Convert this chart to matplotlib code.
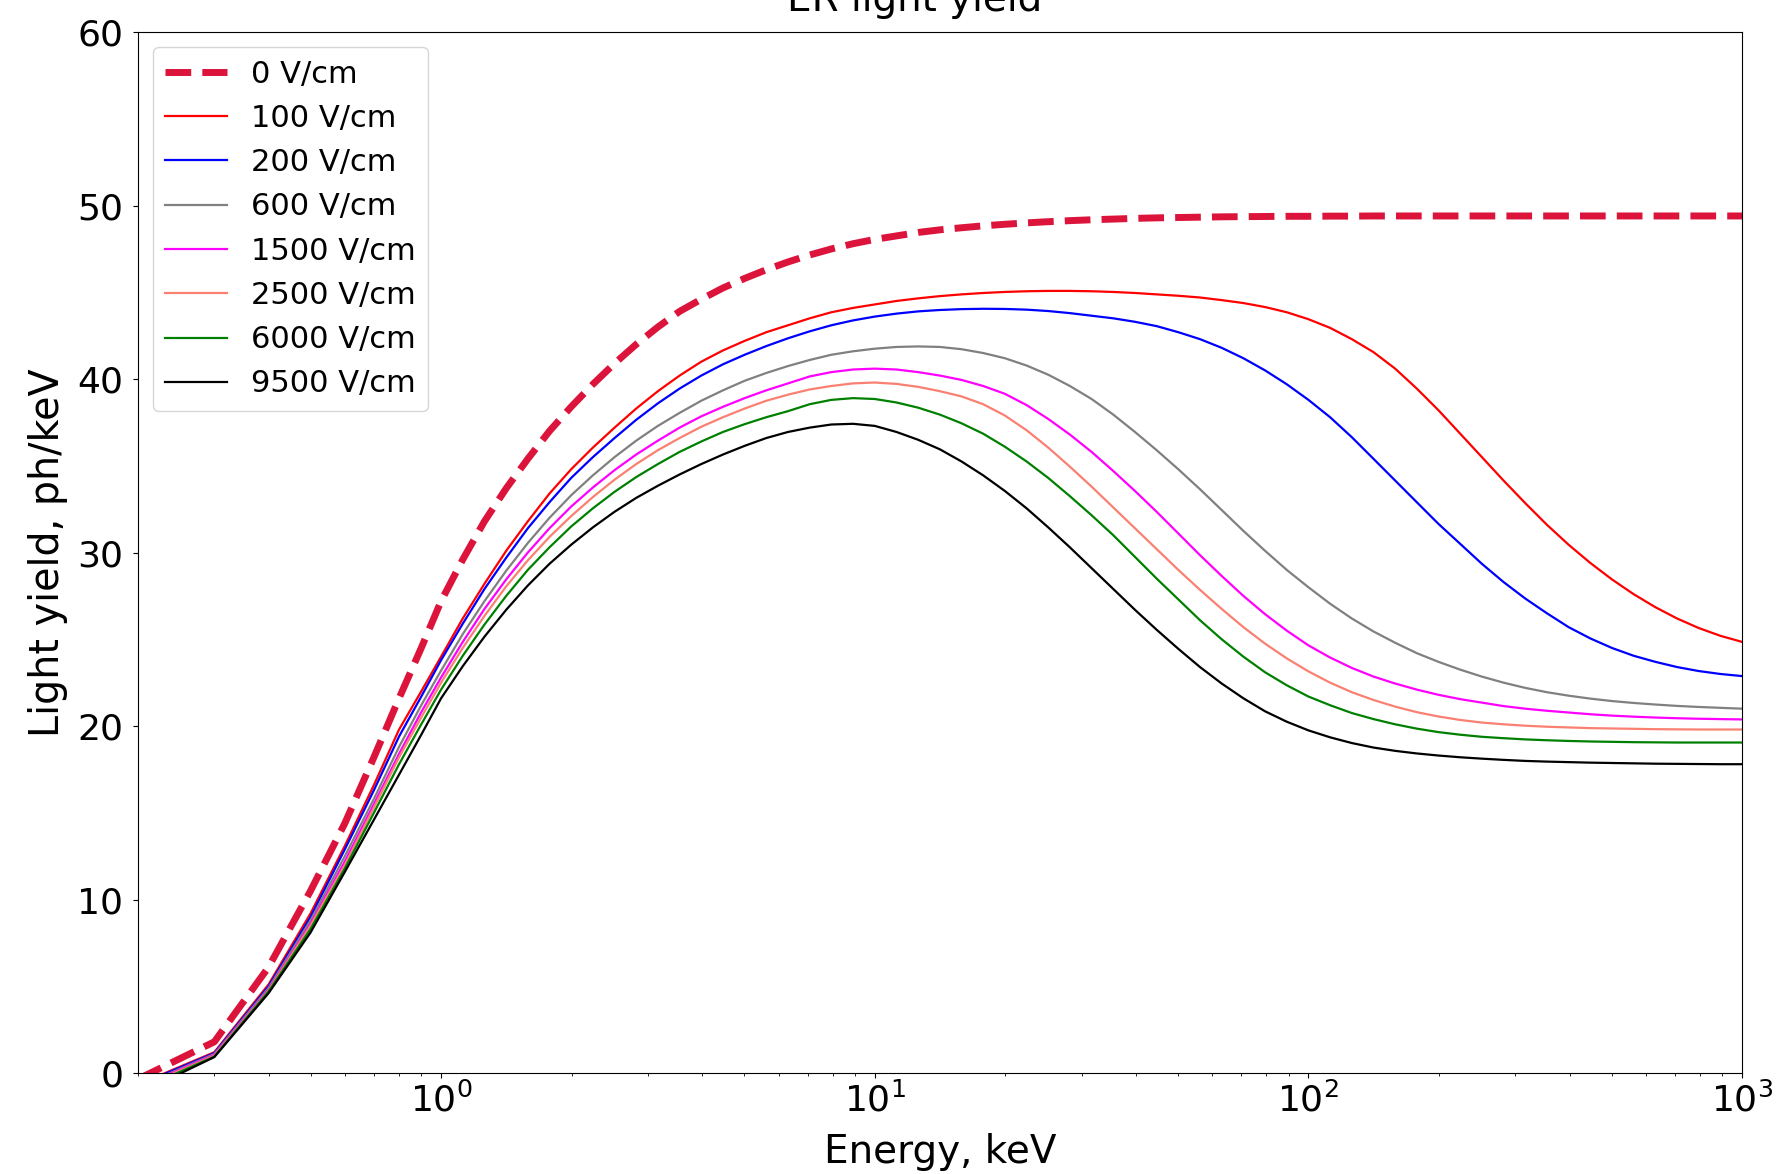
import matplotlib
matplotlib.use("Agg")
import matplotlib.pyplot as plt

energy = [0.2, 0.3, 0.4, 0.5, 0.6, 0.7, 0.8, 0.9,
          1.0, 1.122, 1.259, 1.413, 1.585, 1.778, 1.995, 2.239, 2.512, 2.818,
          3.162, 3.548, 3.981, 4.467, 5.012, 5.623, 6.310, 7.079, 7.943, 8.913,
          10.0, 11.22, 12.59, 14.13, 15.85, 17.78, 19.95, 22.39, 25.12, 28.18,
          31.62, 35.48, 39.81, 44.67, 50.12, 56.23, 63.10, 70.79, 79.43, 89.13,
          100.0, 112.2, 125.9, 141.3, 158.5, 177.8, 199.5, 223.9, 251.2, 281.8,
          316.2, 354.8, 398.1, 446.7, 501.2, 562.3, 631.0, 707.9, 794.3, 891.3,
          1000.0]

# light yield, ph/keV, one list per drift field
ly_0 = [-0.35, 1.8, 6.1, 10.5, 14.4, 18.2, 21.6, 24.5,
        27.2, 29.6, 31.8, 33.7, 35.4, 37.0, 38.4, 39.7, 40.9, 42.0,
        43.0, 43.9, 44.6, 45.25, 45.8, 46.3, 46.75, 47.15, 47.5, 47.8,
        48.05, 48.25, 48.45, 48.6, 48.72, 48.83, 48.92, 49.0, 49.07, 49.13,
        49.18, 49.22, 49.26, 49.29, 49.31, 49.33, 49.35, 49.36, 49.37, 49.38,
        49.38, 49.39, 49.39, 49.4, 49.4, 49.4, 49.4, 49.4, 49.4, 49.4,
        49.4, 49.4, 49.4, 49.4, 49.4, 49.4, 49.4, 49.4, 49.4, 49.4,
        49.4]
ly_100 = [-0.66, 1.2, 5.1, 9.2, 13.1, 16.6, 19.8, 22.0,
          24.0, 26.2, 28.2, 30.1, 31.8, 33.4, 34.8, 36.05, 37.2, 38.3,
          39.3, 40.2, 41.0, 41.65, 42.2, 42.7, 43.1, 43.5, 43.85, 44.1,
          44.3, 44.5, 44.65, 44.78, 44.88, 44.96, 45.02, 45.06, 45.08, 45.08,
          45.06, 45.02, 44.96, 44.88, 44.8, 44.7, 44.55, 44.38, 44.15, 43.85,
          43.45, 42.95, 42.3, 41.55, 40.6, 39.45, 38.2, 36.85, 35.5, 34.15,
          32.85, 31.6, 30.45, 29.4, 28.45, 27.6, 26.85, 26.2, 25.65, 25.2,
          24.85]
ly_200 = [-0.7, 1.15, 5.0, 9.0, 12.9, 16.3, 19.4, 21.7,
          23.8, 25.9, 27.9, 29.7, 31.4, 32.9, 34.3, 35.5, 36.6, 37.65,
          38.6, 39.45, 40.2, 40.85, 41.4, 41.9, 42.35, 42.75, 43.1, 43.38,
          43.6, 43.77, 43.9, 43.98, 44.03, 44.05, 44.04, 44.0, 43.92, 43.8,
          43.65, 43.5, 43.3, 43.05, 42.7, 42.3, 41.8, 41.2, 40.5, 39.7,
          38.8, 37.8, 36.65, 35.4, 34.15, 32.9, 31.65, 30.5, 29.35, 28.3,
          27.35, 26.5, 25.7, 25.05, 24.5, 24.05, 23.7, 23.4, 23.17, 23.0,
          22.88]
ly_600 = [-0.8, 1.1, 4.9, 8.8, 12.5, 15.8, 18.8, 21.2,
          23.2, 25.3, 27.2, 28.95, 30.55, 32.0, 33.3, 34.45, 35.5, 36.45,
          37.3, 38.05, 38.75, 39.35, 39.9, 40.35, 40.75, 41.1, 41.4, 41.6,
          41.75, 41.85, 41.88, 41.85, 41.72, 41.5, 41.2, 40.78, 40.25, 39.6,
          38.85, 37.95, 36.95, 35.9, 34.8, 33.65, 32.45, 31.25, 30.1, 29.0,
          28.0, 27.05, 26.2, 25.45, 24.8, 24.2, 23.7, 23.25, 22.85, 22.5,
          22.2, 21.95, 21.75, 21.58, 21.44, 21.33, 21.24, 21.16, 21.1, 21.05,
          21.0]
ly_1500 = [-0.85, 1.05, 4.8, 8.6, 12.2, 15.5, 18.4, 20.8,
           22.8, 24.85, 26.75, 28.45, 30.0, 31.4, 32.65, 33.75, 34.75, 35.65,
           36.45, 37.2, 37.85, 38.4, 38.9, 39.35, 39.75, 40.15, 40.4, 40.55,
           40.6, 40.55, 40.4, 40.2, 39.95, 39.6, 39.15, 38.5, 37.7, 36.8,
           35.8, 34.7, 33.55, 32.35, 31.1, 29.85, 28.65, 27.5, 26.45, 25.5,
           24.65, 23.95, 23.35, 22.85, 22.45, 22.1, 21.8, 21.55, 21.35, 21.15,
           21.0, 20.88, 20.78, 20.68, 20.6, 20.54, 20.49, 20.45, 20.42, 20.4,
           20.38]
ly_2500 = [-0.9, 1.0, 4.75, 8.5, 12.0, 15.3, 18.2, 20.5,
           22.5, 24.5, 26.35, 28.05, 29.55, 30.9, 32.1, 33.2, 34.2, 35.1,
           35.9, 36.6, 37.25, 37.8, 38.3, 38.75, 39.1, 39.4, 39.6, 39.75,
           39.8, 39.72, 39.55, 39.3, 39.0, 38.55, 37.9, 37.05, 36.05, 34.95,
           33.8, 32.6, 31.4, 30.2, 29.0, 27.85, 26.75, 25.7, 24.75, 23.9,
           23.15, 22.5, 21.95, 21.5, 21.12, 20.8, 20.55, 20.35, 20.2, 20.1,
           20.02, 19.96, 19.92, 19.88, 19.86, 19.84, 19.82, 19.81, 19.8, 19.8,
           19.8]
ly_6000 = [-1.0, 0.95, 4.7, 8.3, 11.8, 15.0, 17.8, 20.1,
           22.1, 24.05, 25.85, 27.5, 29.0, 30.3, 31.5, 32.55, 33.5, 34.35,
           35.1, 35.8, 36.4, 36.95, 37.4, 37.8, 38.15, 38.55, 38.8, 38.9,
           38.85, 38.65, 38.35, 37.95, 37.45, 36.85, 36.1, 35.25, 34.3, 33.25,
           32.15, 31.0, 29.75, 28.5, 27.3, 26.1, 25.0, 24.0, 23.1, 22.35,
           21.7, 21.2, 20.75, 20.4, 20.1, 19.85, 19.65, 19.5, 19.38, 19.3,
           19.23, 19.18, 19.14, 19.11, 19.09, 19.07, 19.06, 19.05, 19.05, 19.05,
           19.05]
ly_9500 = [-1.2, 0.92, 4.6, 8.1, 11.6, 14.6, 17.2, 19.5,
           21.6, 23.45, 25.15, 26.7, 28.1, 29.35, 30.45, 31.45, 32.35, 33.15,
           33.85, 34.5, 35.1, 35.65, 36.15, 36.6, 36.95, 37.2, 37.38, 37.42,
           37.3, 36.95, 36.5, 35.95, 35.25, 34.45, 33.55, 32.55, 31.45, 30.3,
           29.1, 27.9, 26.7, 25.55, 24.45, 23.4, 22.45, 21.6, 20.85, 20.25,
           19.75, 19.35, 19.02, 18.76, 18.57, 18.42, 18.3, 18.2, 18.12, 18.05,
           17.99, 17.95, 17.92, 17.89, 17.87, 17.85, 17.83, 17.82, 17.81, 17.8,
           17.8]

fields = ['100 V/cm', '200 V/cm', '600 V/cm', '1500 V/cm', '2500 V/cm', '6000 V/cm', '9500 V/cm']
field_curves = [ly_100, ly_200, ly_600, ly_1500, ly_2500, ly_6000, ly_9500]
colors = ['red', 'blue', 'grey', 'magenta', 'salmon', 'green', 'black']

fig = plt.figure(figsize=(17.78, 11.74), dpi=100)
ax = fig.add_axes([0.0776, 0.086, 0.9022, 0.8867])

ax.plot(energy, ly_0, '--', color='crimson', lw=5, label='0 V/cm')
for ly, lab, c in zip(field_curves, fields, colors):
    ax.plot(energy, ly, color=c, lw=1.6, label=lab)

ax.set_xscale('log')
ax.set_xlim(0.2, 1000)
ax.set_ylim(0, 60)
ax.tick_params(labelsize=26)
ax.tick_params(axis='y', pad=7)
ax.set_xlabel('Energy, keV', fontsize=28, labelpad=10)
ax.set_ylabel('Light yield, ph/keV', fontsize=28.5, labelpad=7)
ax.set_title('ER light yield', fontsize=28, pad=15, x=0.484)
ax.legend(loc='upper left', fontsize=22)

fig.savefig('out.png', dpi=100)
